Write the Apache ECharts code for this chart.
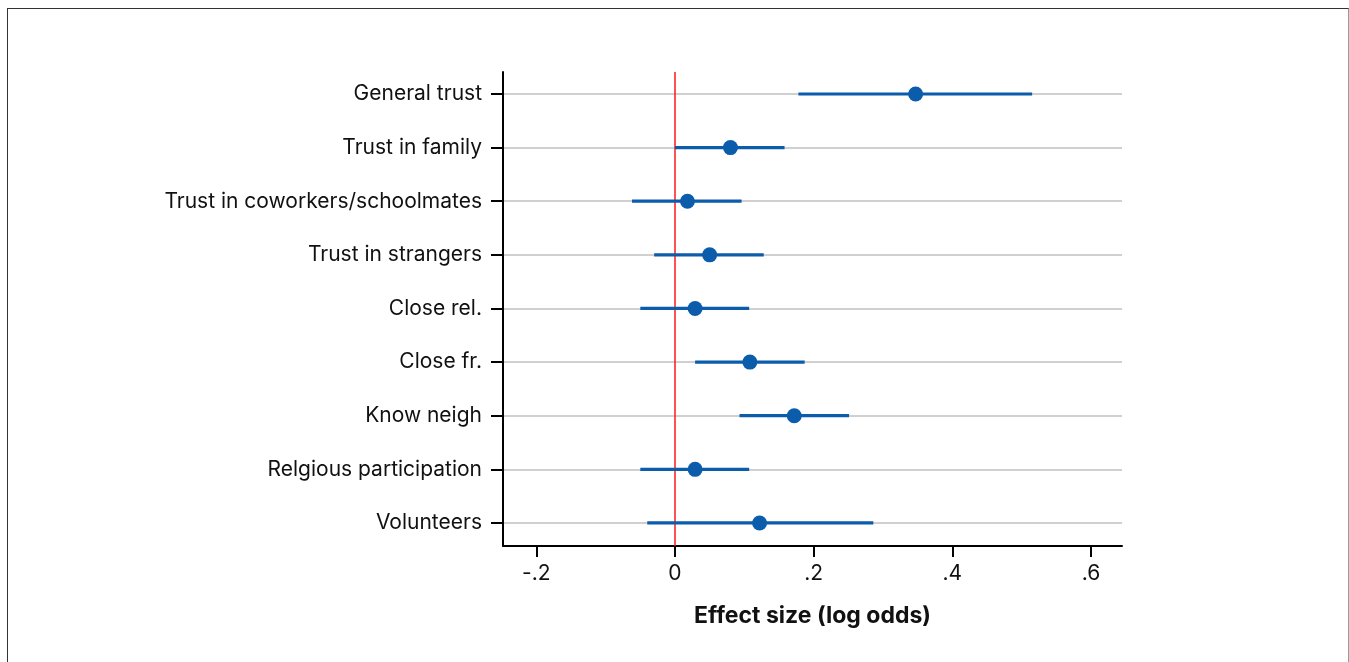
<!DOCTYPE html>
<html>
<head>
<meta charset="utf-8">
<script src="https://cdn.jsdelivr.net/npm/echarts@6/dist/echarts.min.js"></script>
<style>
  html, body { margin: 0; padding: 0; background: #fff; }
  #frame {
    position: absolute; left: 7px; top: 8px; width: 1340px; height: 700px;
    border-left: 1.5px solid #333; border-top: 1.5px solid #333; border-right: 1.5px solid #9a9a9a;
  }
  #main { position: absolute; left: 0; top: 0; width: 1349px; height: 662px; }
</style>
</head>
<body>
<div id="frame"></div>
<div id="main"></div>
<script>
var categories = ['General trust', 'Trust in family', 'Trust in coworkers/schoolmates', 'Trust in strangers',
    'Close rel.', 'Close fr.', 'Know neigh', 'Relgious participation', 'Volunteers'];
var estimates = [0.347, 0.080, 0.018, 0.050, 0.029, 0.108, 0.172, 0.029, 0.122];
var lower = [0.178, 0.000, -0.062, -0.030, -0.050, 0.029, 0.093, -0.050, -0.040];
var upper = [0.515, 0.158, 0.096, 0.128, 0.107, 0.187, 0.251, 0.107, 0.286];
var xTicks = [-0.2, 0, 0.2, 0.4, 0.6];
var xTickLabels = ['-.2', '0', '.2', '.4', '.6'];
var refLine = [0];

var chart = echarts.init(document.getElementById('main'));

// build series data from the arrays
var rowIdx = categories.map(function (c, i) { return i; });
var ciData = [];
var pointData = [];
categories.forEach(function (c, i) {
    ciData.push([lower[i], upper[i], i]);
    pointData.push([estimates[i], i]);
});

var txt = '#111';
var font = 'Inter, "Noto Sans", sans-serif';

var option = {
    animation: false,
    grid: { left: 503, right: 227, top: 72, bottom: 116 },
    xAxis: {
        type: 'value',
        min: -0.248,
        max: 0.6446,
        name: 'Effect size (log odds)',
        nameLocation: 'middle',
        nameGap: 59,
        nameTextStyle: { color: txt, fontFamily: font, fontSize: 23, fontWeight: 'bold' },
        axisLine: { show: true, onZero: false, lineStyle: { color: '#000', width: 2 } },
        axisTick: { show: true, length: 11, lineStyle: { color: '#000', width: 2 }, customValues: xTicks },
        axisLabel: {
            color: txt, fontFamily: font, fontSize: 21, margin: 17,
            customValues: xTicks,
            formatter: function (v) {
                var k = Math.round((v + 0.2) / 0.2);
                return xTickLabels[k];
            }
        },
        splitLine: { show: false }
    },
    yAxis: {
        type: 'value',
        inverse: true,
        min: -0.41,
        max: 8.43,
        axisLine: { show: true, onZero: false, lineStyle: { color: '#000', width: 2 } },
        axisTick: { show: true, length: 12, lineStyle: { color: '#000', width: 2 }, customValues: rowIdx },
        axisLabel: {
            color: txt, fontFamily: font, fontSize: 21, margin: 21,
            customValues: rowIdx,
            formatter: function (v) { return categories[Math.round(v)]; }
        },
        splitLine: { show: true, lineStyle: { color: '#c0c0c0', width: 1.5 } }
    },
    series: [
        {
            type: 'custom',
            data: ciData,
            encode: { x: [0, 1], y: 2 },
            renderItem: function (params, api) {
                var a = api.coord([api.value(0), api.value(2)]);
                var b = api.coord([api.value(1), api.value(2)]);
                return {
                    type: 'line',
                    shape: { x1: a[0], y1: a[1], x2: b[0], y2: b[1] },
                    style: { stroke: '#0b5cab', lineWidth: 3.2 }
                };
            },
            z: 3
        },
        {
            type: 'scatter',
            data: pointData,
            symbol: 'circle',
            symbolSize: 15,
            itemStyle: { color: '#0b5cab', opacity: 1 },
            z: 4,
            markLine: {
                silent: true,
                z: 2,
                symbol: ['none', 'none'],
                label: { show: false },
                lineStyle: { color: '#ff1a1a', width: 1.5, type: 'solid', opacity: 1 },
                emphasis: { disabled: true },
                data: refLine.map(function (v) { return { xAxis: v }; })
            }
        }
    ]
};
chart.setOption(option);
window.addEventListener('resize', function () { chart.resize(); });
</script>
</body>
</html>
